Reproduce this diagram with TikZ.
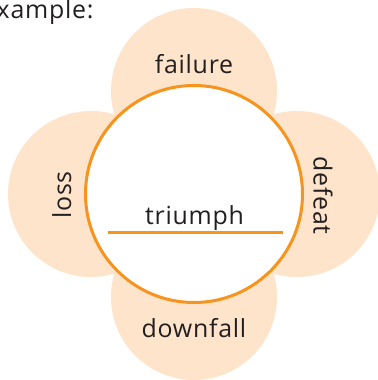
\documentclass[tikz,border=0pt]{standalone}
\usepackage{fontspec}
\setmainfont{Open Sans}[LetterSpace=3]
\usetikzlibrary{positioning}

\definecolor{peach}{HTML}{FDE4CA}
\definecolor{rim}{HTML}{F7941E}
\definecolor{ink}{HTML}{231F20}

\begin{document}
\begin{tikzpicture}[
	x = 1bp, y = 1bp, % one unit per pixel
	node distance = 103bp, % centre of ring to centre of petal
	font = \fontsize{25}{29}\selectfont,
	text = ink
	]
	
	\tikzstyle{petal}=[
	circle,
	fill = peach,
	minimum size = 166bp,
	inner sep = 0pt
	]
	\tikzstyle{ring}=[
	circle,
	draw = rim,
	line width = 3bp,
	fill = white,
	minimum size = 217bp,
	inner sep = 0pt
	]
	
	\useasboundingbox (0,0) rectangle (378,380);
	
	\coordinate (c) at (194,186);
	\node[petal] (pN) [above of=c] {};
	\node[petal] (pS) [below of=c] {};
	\node[petal] (pW) [left of=c] {};
	\node[petal] (pE) [right of=c] {};
	\node[ring] (core) at (c) {};
	
	\node[anchor=base east] (ex) at (97,362) {example:};
	\node[anchor=base] (lN) at (194,307) {failure};
	\node[anchor=base] (lS) at (194,43) {downfall};
	\node[anchor=base, rotate=90] (lW) at (71,185) {loss};
	\node[anchor=base, rotate=-90] (lE) at (313.5,184.5) {defeat};
	\node[anchor=base] (lC) at (194.5,156) {triumph};
	
	\coordinate (ulL) at (108,147);
	\coordinate (ulR) at (283,147);
	\draw[rim, line width=3bp] (ulL) -- (ulR);
	
\end{tikzpicture}
\end{document}
